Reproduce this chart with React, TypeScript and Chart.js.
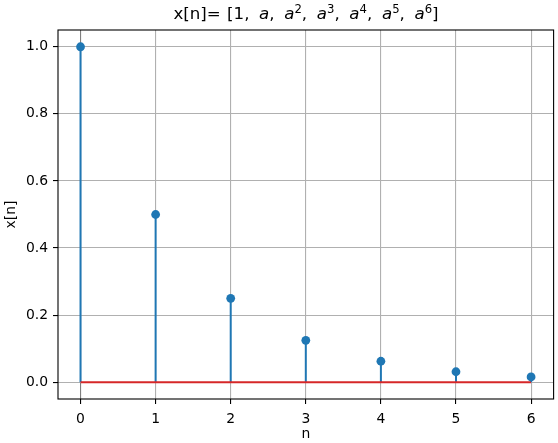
import React, { useEffect, useRef } from "react";
import { Chart, registerables } from "chart.js";

Chart.register(...registerables);

const nValues = [0, 1, 2, 3, 4, 5, 6];
const xnValues = [1, 0.5, 0.25, 0.125, 0.0625, 0.03125, 0.015625];
const xTicks = [0, 1, 2, 3, 4, 5, 6];
const yTicks = [0, 0.2, 0.4, 0.6, 0.8, 1.0];

const FONT = "'DejaVu Sans', sans-serif";
const BLUE = "#1f77b4";
const RED = "#d62728";

const framePlugin = {
  id: "frame",
  afterDraw(chart: any) {
    const { ctx, chartArea } = chart;
    ctx.save();
    ctx.strokeStyle = "#000";
    ctx.lineWidth = 1.1;
    ctx.strokeRect(chartArea.left, chartArea.top, chartArea.right - chartArea.left, chartArea.bottom - chartArea.top);
    ctx.restore();
  },
};

export default function App() {
  const ref = useRef<HTMLCanvasElement | null>(null);

  useEffect(() => {
    const stemData: any[] = [];
    nValues.forEach((n, i) => {
      stemData.push({ x: n, y: 0 });
      stemData.push({ x: n, y: xnValues[i] });
      stemData.push({ x: n, y: null });
    });
    const baseData = [
      { x: nValues[0], y: 0 },
      { x: nValues[nValues.length - 1], y: 0 },
    ];
    const markerData = nValues.map((n, i) => ({ x: n, y: xnValues[i] }));

    const chart = new Chart(ref.current as HTMLCanvasElement, {
      type: "line",
      data: {
        datasets: [
          {
            data: markerData,
            showLine: false,
            pointRadius: 4.4,
            pointHoverRadius: 4.4,
            pointBackgroundColor: BLUE,
            pointBorderWidth: 0,
            borderColor: BLUE,
            order: 0,
          },
          {
            data: baseData,
            borderColor: RED,
            borderWidth: 2,
            pointRadius: 0,
            order: 1,
          },
          {
            data: stemData,
            borderColor: BLUE,
            borderWidth: 2,
            pointRadius: 0,
            spanGaps: false,
            order: 2,
          },
        ] as any,
      },
      plugins: [framePlugin],
      options: {
        animation: false,
        responsive: false,
        devicePixelRatio: 1,
        layout: { padding: { top: 30, right: 4, left: 0, bottom: 0 } },
        plugins: {
          legend: { display: false },
          tooltip: { enabled: false },
          title: { display: false },
        },
        scales: {
          x: {
            type: "linear",
            min: -0.3,
            max: 6.3,
            afterBuildTicks: (scale: any) => {
              scale.ticks = xTicks.map((v) => ({ value: v }));
            },
            afterFit: (scale: any) => {
              scale.height = 44;
            },
            ticks: {
              font: { family: FONT, size: 13.9 },
              color: "#000",
              padding: 7,
              maxRotation: 0,
              callback: (v: any) => String(v),
            },
            grid: {
              color: (c: any) => (c.tick && c.tick.value === 0 ? "#7f7f7f" : "#b0b0b0"),
              lineWidth: 1.1,
              tickColor: "#000",
              tickLength: 5,
            },
            border: { display: false },
            title: {
              display: true,
              text: "n",
              font: { family: FONT, size: 13.9 },
              color: "#000",
              padding: { top: 0, bottom: 0 },
            },
          },
          y: {
            type: "linear",
            min: -0.05,
            max: 1.05,
            afterBuildTicks: (scale: any) => {
              scale.ticks = yTicks.map((v) => ({ value: v }));
            },
            afterFit: (scale: any) => {
              scale.width = 58;
            },
            ticks: {
              font: { family: FONT, size: 13.9 },
              color: "#000",
              padding: 5,
              callback: (v: any) => Number(v).toFixed(1),
            },
            grid: {
              color: "#b0b0b0",
              lineWidth: 1.1,
              tickColor: "#000",
              tickLength: 5,
            },
            border: { display: false },
            title: {
              display: true,
              text: "x[n]",
              font: { family: FONT, size: 13.9 },
              color: "#000",
              padding: { top: 3, bottom: 0 },
            },
          },
        },
      } as any,
    });
    return () => chart.destroy();
  }, []);

  const supStyle: React.CSSProperties = {
    fontSize: "70%",
    position: "relative",
    top: "-0.55em",
    verticalAlign: "baseline",
  };
  const aStyle: React.CSSProperties = { fontStyle: "oblique" };
  const sp = "\u2009";

  return (
    <div style={{ position: "fixed", left: 0, top: 0, width: 558, height: 443, background: "#fff" }}>
      <canvas ref={ref} width={558} height={443} style={{ position: "absolute", left: 0, top: 0 }} />
      <div
        style={{
          position: "absolute",
          left: 58,
          width: 496,
          top: 3,
          textAlign: "center",
          fontFamily: FONT,
          fontSize: 16.67,
          lineHeight: "22px",
          color: "#000",
          whiteSpace: "nowrap",
          wordSpacing: "1px",
        }}
      >
        x[n]= [1,{sp} <span style={aStyle}>a</span>,{sp} <span style={aStyle}>a</span>
        <span style={supStyle}>2</span>,{sp} <span style={aStyle}>a</span>
        <span style={supStyle}>3</span>,{sp} <span style={aStyle}>a</span>
        <span style={supStyle}>4</span>,{sp} <span style={aStyle}>a</span>
        <span style={supStyle}>5</span>,{sp} <span style={aStyle}>a</span>
        <span style={supStyle}>6</span>]
      </div>
    </div>
  );
}
